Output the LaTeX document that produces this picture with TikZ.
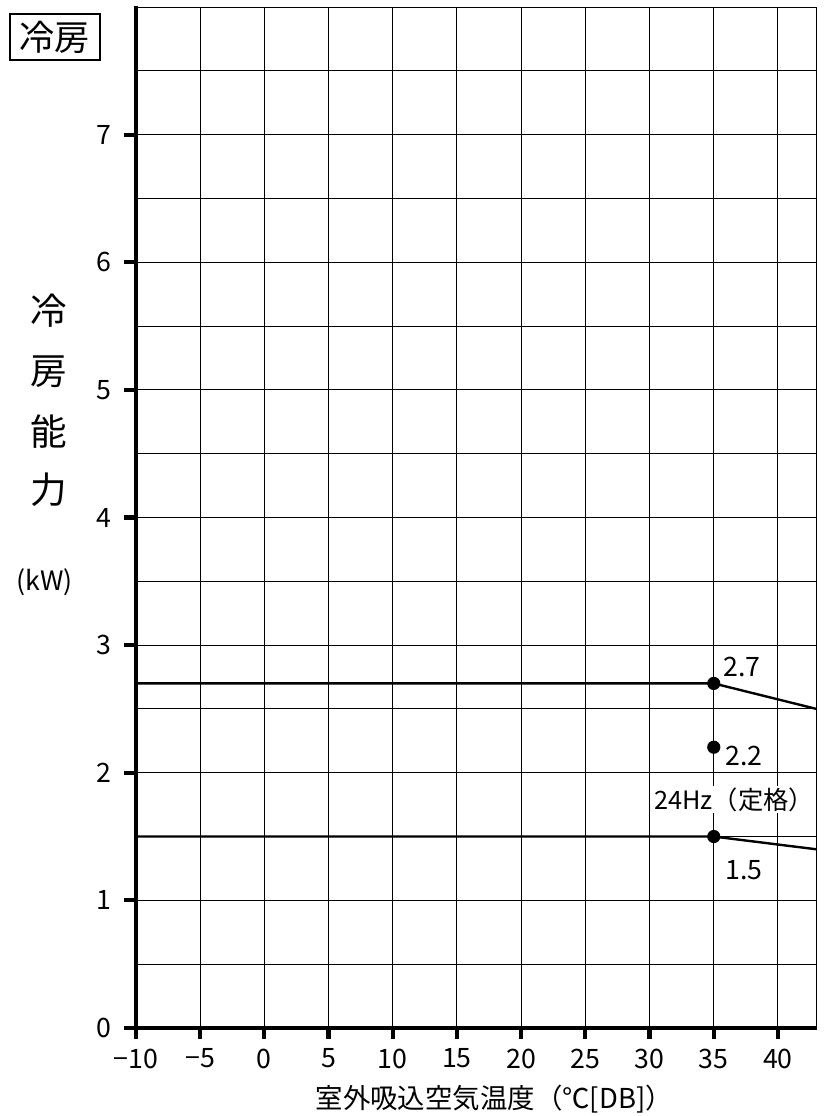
\documentclass[tikz,border=0pt]{standalone}
\usepackage{fontspec}
\setmainfont{Noto Sans CJK JP}
\tikzset{
	gridline/.style={line width=0.7pt},
	axisline/.style={line width=3pt},
	dataline/.style={line width=1.7pt},
	datadot/.style={circle,fill,inner sep=0pt,minimum size=0.33cm},
	ticklabel/.style={font=\fontsize{19}{19}\selectfont,inner sep=0pt},
	valuelabel/.style={font=\fontsize{19}{19}\selectfont,inner sep=1pt},
	bigchar/.style={font=\fontsize{26}{26}\selectfont,inner sep=0pt}
}
\begin{document}
\begin{tikzpicture}[x=0.321cm,y=3.19cm]
	\useasboundingbox (-20.59,-0.69) rectangle (43.82,8.056);

	\foreach \x in {-5,0,...,40}
	\draw [gridline] (\x,0) -- (\x,8);
	\foreach \y in {0.5,1,...,7.5}
	\draw [gridline] (-10,\y) -- (43,\y);
	\draw [gridline] (-10,8) -- (43,8) -- (43,0);

	\draw [axisline] (-10,8.01) -- (-10,0) -- (43,0);
	\foreach \y in {0,...,7}
	{
	\draw [axisline] (-10,\y) -- (-10.93,\y);
	\node [ticklabel,anchor=east] (yl\y) at (-11.9,\y) {\y};
	}
	\foreach \x/\t in {-10/−10,-5/−5,0/0,5/5,10/10,15/15,20/20,25/25,30/30,35/35,40/40}
	{
	\draw [axisline] (\x,0) -- (\x,-0.086);
	\node [ticklabel] (xl\x) at (\x,-0.24) {\t};
	}

	\node [draw,line width=0.8pt,minimum width=2.25cm,minimum height=1.15cm,inner sep=0pt,
	font=\fontsize{25}{25}\selectfont] (title) at (-16.31,7.766) {冷房};

	\foreach \c/\yy [count=\i] in {冷/5.62,房/5.14,能/4.67,力/4.22}
	\node [bigchar] (ylab\i) at (-16.8,\yy) {\c};
	\node [ticklabel] (unit) at (-17.1,3.495) {(kW)};
	\node [font=\fontsize{19.5}{19.5}\selectfont,inner sep=0pt] (xtitle) at (17.9,-0.56) {室外吸込空気温度（℃[DB]）};

	\coordinate (a0) at (-10,2.7);
	\coordinate (a1) at (35,2.7);
	\coordinate (a2) at (43,2.5);
	\coordinate (b0) at (-10,1.5);
	\coordinate (b1) at (35,1.5);
	\coordinate (b2) at (43,1.4);
	\draw [dataline] (a0) -- (a1) -- (a2);
	\draw [dataline] (b0) -- (b1) -- (b2);

	\node [valuelabel,fill=white,font=\fontsize{18}{18}\selectfont] (rated) at (36.6,1.79) {24Hz（定格）};
	\node [datadot] (p27) at (a1) {};
	\node [datadot] (p22) at (35,2.2) {};
	\node [datadot] (p15) at (b1) {};
	\node [valuelabel] (v27) at (37.2,2.83) {2.7};
	\node [valuelabel] (v22) at (37.35,2.13) {2.2};
	\node [valuelabel] (v15) at (37.35,1.24) {1.5};
\end{tikzpicture}
\end{document}
